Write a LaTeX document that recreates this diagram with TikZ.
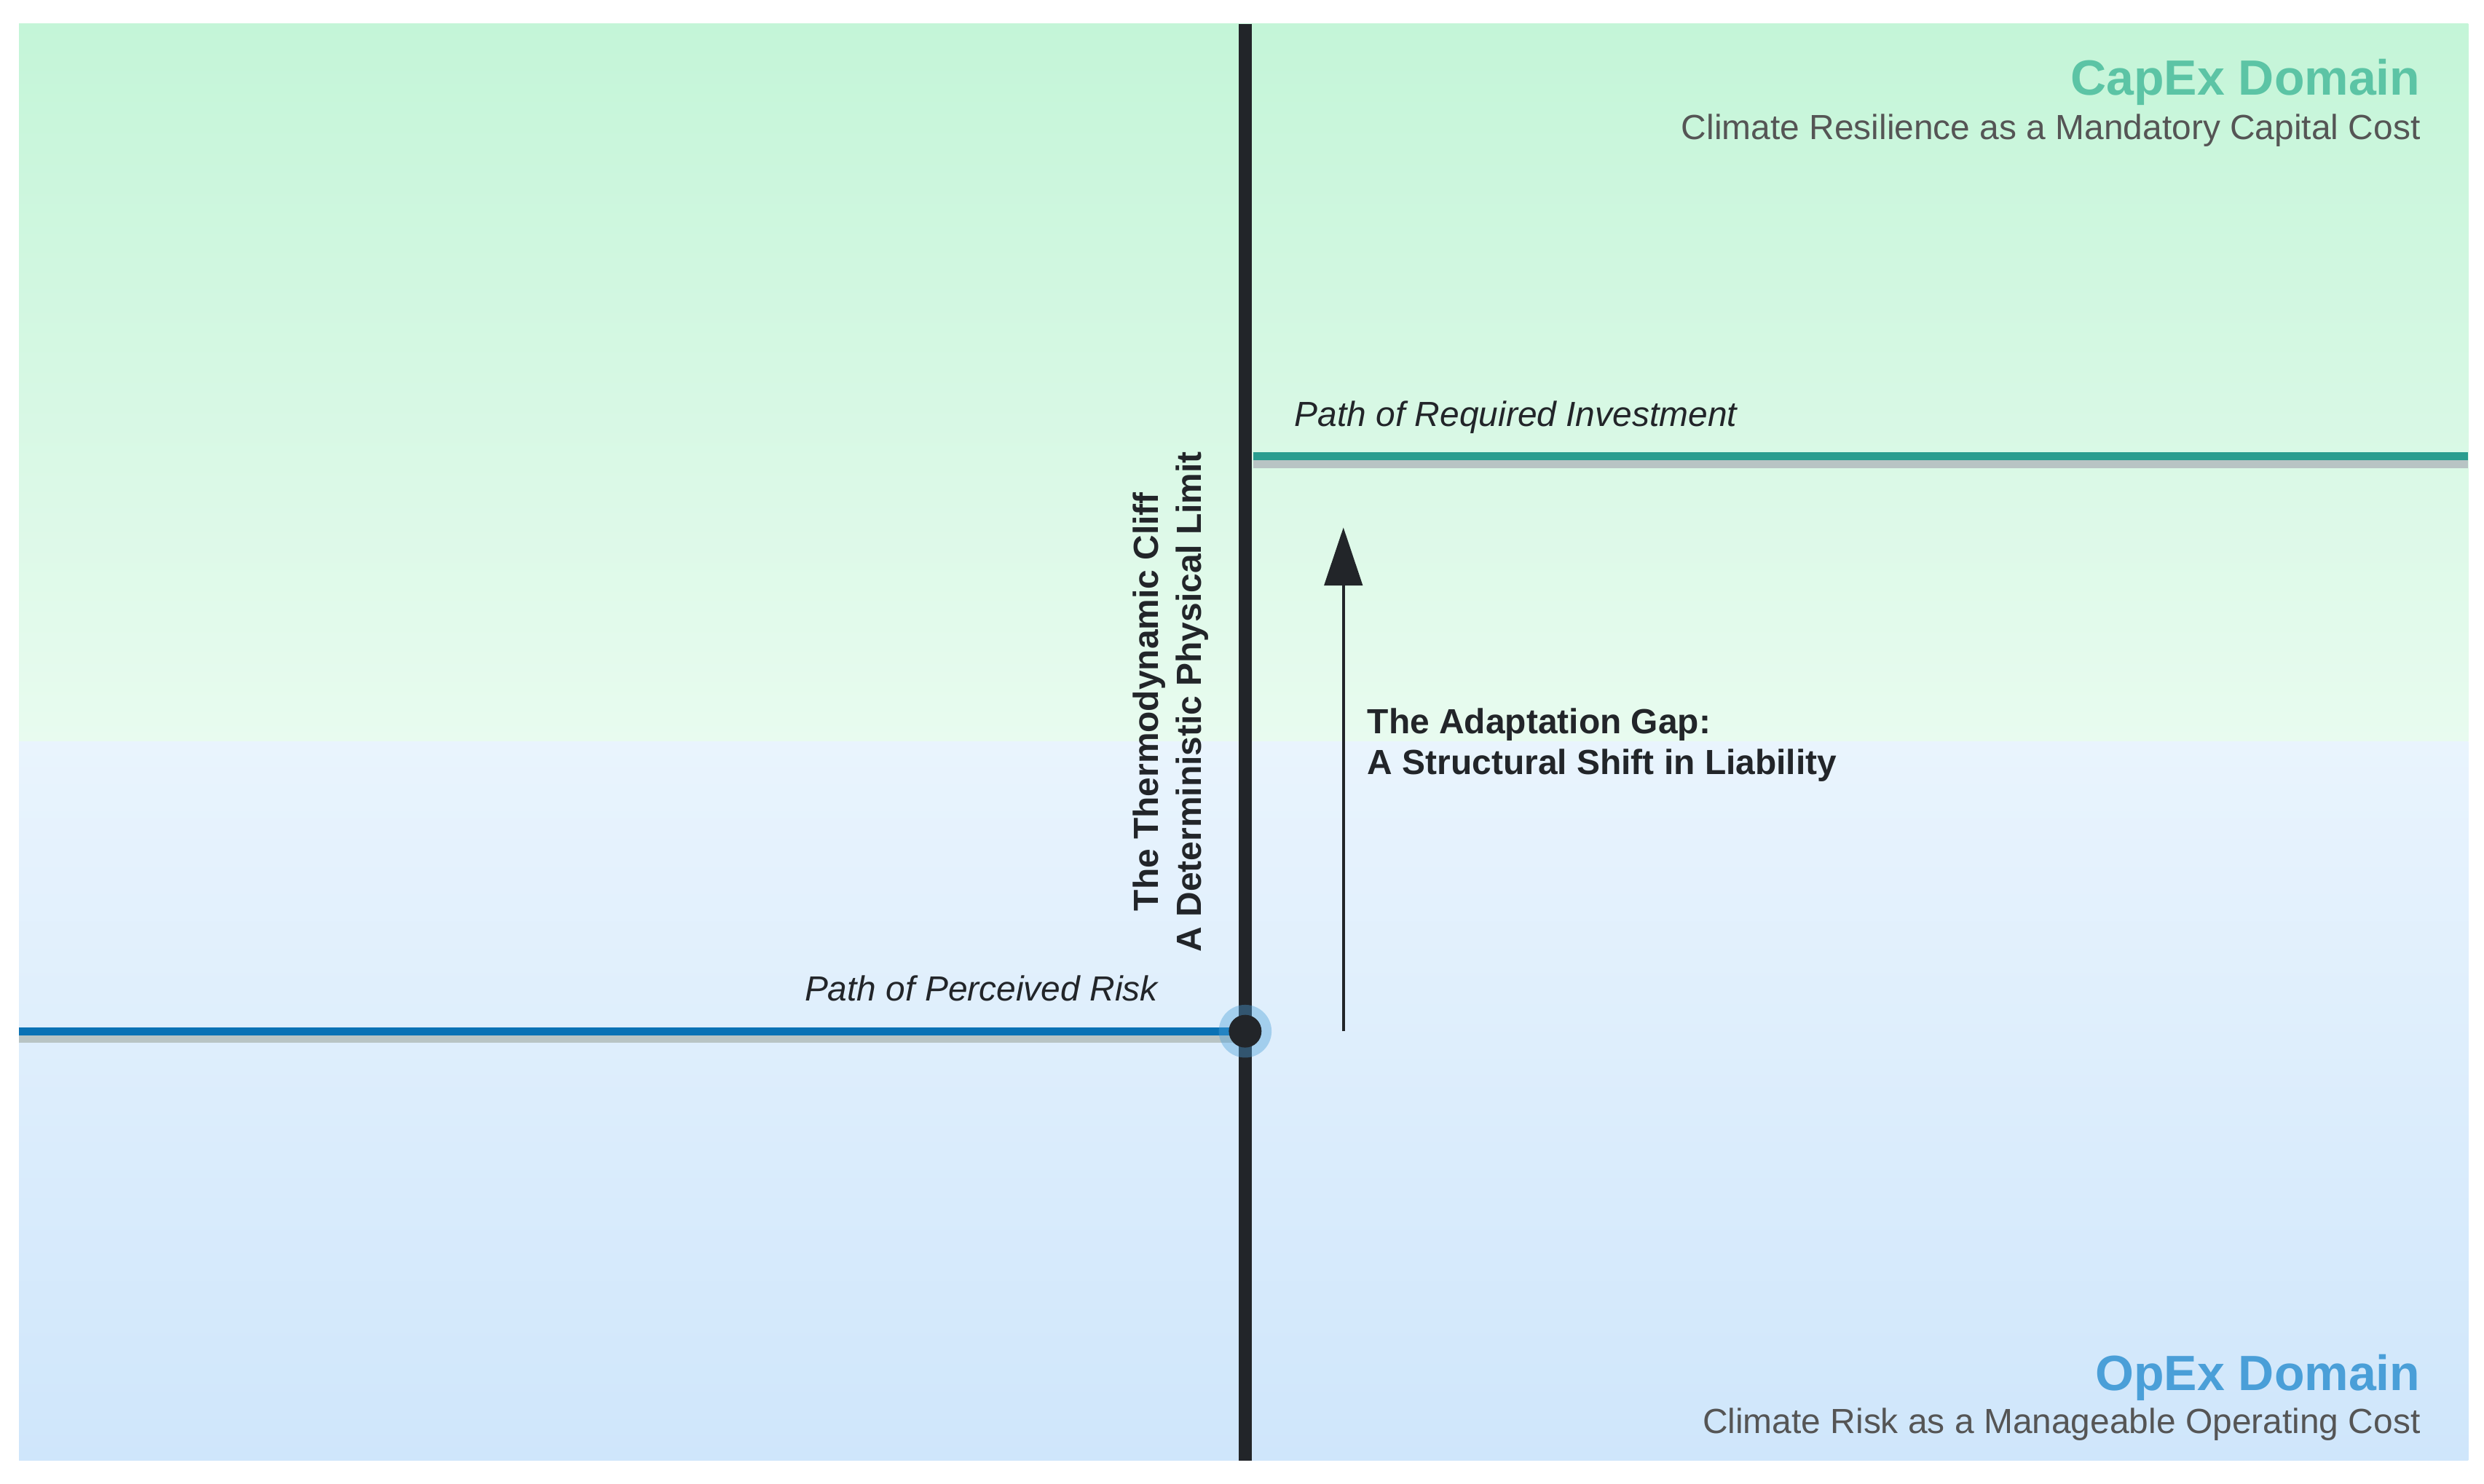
\documentclass[tikz,border=0pt]{standalone}
\usepackage{fontspec}
\setmainfont{Liberation Sans}
\usetikzlibrary{arrows.meta}
\definecolor{gtop}{HTML}{C4F5D8}
\definecolor{gbot}{HTML}{E8FBEF}
\definecolor{btop}{HTML}{E9F4FD}
\definecolor{bbot}{HTML}{CFE6FB}
\definecolor{capc}{HTML}{5CC4A5}
\definecolor{opc}{HTML}{4A9FD8}
\definecolor{subc}{HTML}{555555}
\definecolor{tealc}{HTML}{2A9D8F}
\definecolor{bluec}{HTML}{0A72B5}
\definecolor{shadc}{HTML}{B8C4C4}
\definecolor{darkc}{HTML}{222529}
\begin{document}
\begin{tikzpicture}[x=0.03cm,y=-0.03cm,
  title/.style={font=\fontsize{26.7}{31}\selectfont\bfseries,anchor=base east,inner sep=0},
  sub/.style={font=\fontsize{18.8}{22}\selectfont,text=subc,anchor=base east,inner sep=0},
  pathlab/.style={font=\fontsize{18.8}{22}\selectfont\itshape,text=darkc,inner sep=0},
  boldlab/.style={font=\fontsize{18.8}{22}\selectfont\bfseries,text=darkc,align=left}]
\useasboundingbox (0,0) rectangle (1568,936.4);
\fill[white] (0,0) rectangle (1568,936.4);
\shade[top color=gtop,bottom color=gbot] (12,15) rectangle (1558,468);
\shade[top color=btop,bottom color=bbot] (12,468) rectangle (1558,922);
% paths
\draw[shadc,line width=0.15cm] (12,656) -- (786,656);
\draw[bluec,line width=0.15cm] (12,651) -- (786,651);
\draw[shadc,line width=0.15cm] (791,293) -- (1558,293);
\draw[tealc,line width=0.15cm] (791,288) -- (1558,288);
% cliff
\coordinate (ctop) at (786,15);
\coordinate (cbot) at (786,922);
\draw[darkc,line width=0.25cm] (ctop) -- (cbot);
\node[circle,fill=opc,fill opacity=0.4,minimum size=1.0cm,inner sep=0] (halo) at (786,651) {};
\node[circle,fill=darkc,minimum size=0.62cm,inner sep=0] (dot) at (786,651) {};
% arrow
\coordinate (as) at (848,651);
\coordinate (ae) at (848,333);
\draw[darkc,line width=0.06cm,-{Triangle[length=1.1cm,width=0.72cm]}] (as) -- (ae);
% texts
\node[title,text=capc] (capt) at (1528,60) {CapEx Domain};
\node[sub] (caps) at (1528,88) {Climate Resilience as a Mandatory Capital Cost};
\node[title,text=opc] (opt) at (1528,878) {OpEx Domain};
\node[sub] (ops) at (1528,905) {Climate Risk as a Manageable Operating Cost};
\node[pathlab,anchor=base west] (req) at (817,269) {Path of Required Investment};
\node[pathlab,anchor=base east] (per) at (731,632) {Path of Perceived Risk};
\node[boldlab,anchor=north west,inner sep=0] (gap) at (863,447) {The Adaptation Gap:\\A Structural Shift in Liability};
\node[font=\fontsize{18.8}{23.5}\selectfont\bfseries,text=darkc,rotate=90,align=center] (cliff) at (739,443) {The Thermodynamic Cliff\\A Deterministic Physical Limit};
\end{tikzpicture}
\end{document}
